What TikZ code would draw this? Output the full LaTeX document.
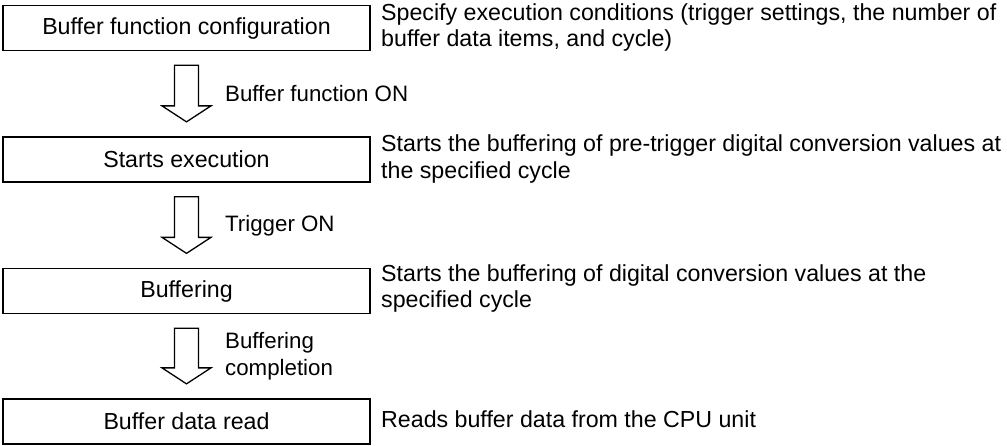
\documentclass[tikz,border=0pt]{standalone}
\usepackage{fontspec}
\setmainfont{Liberation Sans}
\usetikzlibrary{calc}
\tikzset{
  txt/.style={font=\fontsize{23.2pt}{26.5pt}\selectfont},
  stepbox/.style={txt, draw, line width=1.3pt, minimum width=367pt, minimum height=45pt, inner sep=0pt},
  note/.style={txt, anchor=west, align=left, inner sep=0pt},
  lbl/.style={font=\fontsize{22.3pt}{27pt}\selectfont, anchor=west, align=left, inner sep=0pt},
  hollow/.style={draw, line width=1.3pt, fill=white, line join=miter}
}
\newcommand\flowarrow[4]{%
  \draw[hollow] let \p1=(#1.south), \p2=(#2.north) in
    (\x1-12pt,\y1-14pt) -- (\x1+12pt,\y1-14pt) -- (\x1+12pt,\y2+30.5pt)
    -- (\x1+24.5pt,\y2+30.5pt) -- (\x1,\y2+14.5pt) -- (\x1-24.5pt,\y2+30.5pt)
    -- (\x1-12pt,\y2+30.5pt) -- cycle
    (\x1+38pt,{(\y1+\y2)/2}) node[lbl] (#3) {#4};
}
\begin{document}
\begin{tikzpicture}
\useasboundingbox (0,0) rectangle (1007pt,-445pt);
\node[stepbox] (b1) at (186.5pt,-28pt) {Buffer function configuration};
\node[stepbox] (b2) at (186.5pt,-159.5pt) {Starts execution};
\node[stepbox] (b3) at (186.5pt,-291pt) {Buffering};
\node[stepbox] (b4) at (186.5pt,-421.5pt) {Buffer data read};
\node[note] (n1) at (381pt,-27.5pt) {Specify execution conditions (trigger settings, the number of\\buffer data items, and cycle)};
\node[note] (n2) at (381pt,-159pt) {Starts the buffering of pre-trigger digital conversion values at\\the specified cycle};
\node[note] (n3) at (381pt,-288.5pt) {Starts the buffering of digital conversion values at the\\specified cycle};
\node[note] (n4) at (381pt,-419pt) {Reads buffer data from the CPU unit};
\flowarrow{b1}{b2}{l1}{Buffer function ON}
\flowarrow{b2}{b3}{l2}{Trigger ON}
\flowarrow{b3}{b4}{l3}{Buffering\\completion}
\end{tikzpicture}
\end{document}
